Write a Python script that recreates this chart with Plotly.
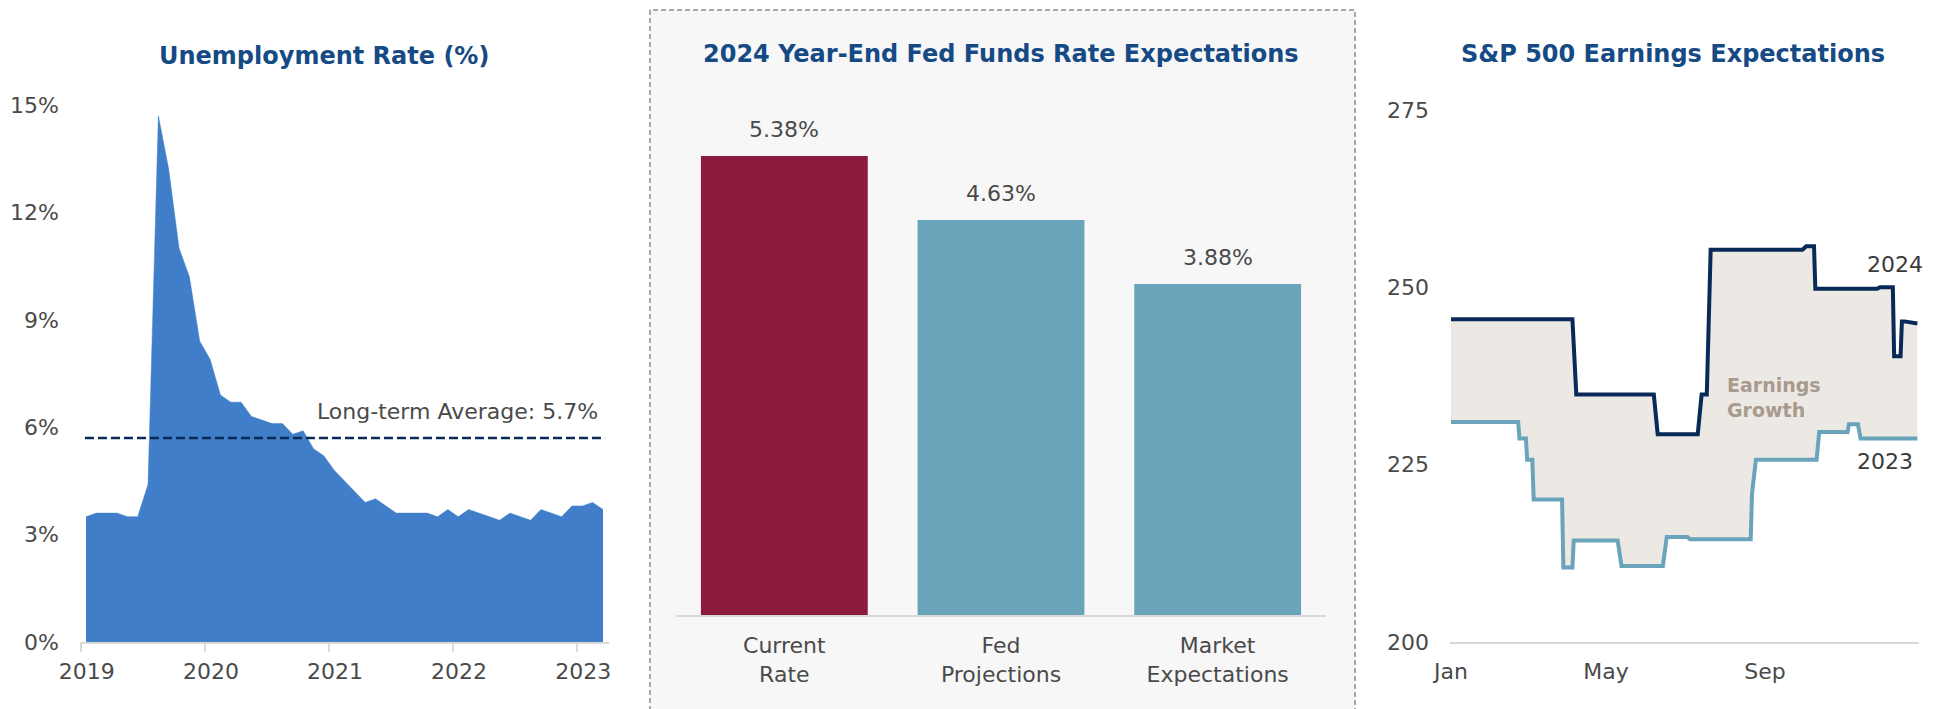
"""
Three-panel macro dashboard: unemployment, fed funds expectations, S&P 500 EPS
"""

import plotly.graph_objects as go

# ---------- data ----------
# monthly unemployment rate (%), index 0 = first month shown
UNEMP_RATE = [3.5, 3.6, 3.6, 3.6, 3.5, 3.5, 4.4, 14.7, 13.2, 11.0,
              10.2, 8.4, 7.9, 6.9, 6.7, 6.7, 6.3, 6.2, 6.1, 6.1,
              5.8, 5.9, 5.4, 5.2, 4.8, 4.5, 4.2, 3.9, 4.0, 3.8,
              3.6, 3.6, 3.6, 3.6, 3.5, 3.7, 3.5, 3.7, 3.6, 3.5,
              3.4, 3.6, 3.5, 3.4, 3.7, 3.6, 3.5, 3.8, 3.8, 3.9, 3.7]
UNEMP_MONTHS = list(range(len(UNEMP_RATE)))
LT_AVG = 5.7
YEAR_TICKS = [-0.5, 11.5, 23.5, 35.5, 47.5]
YEAR_LABELS = ['2019', '2020', '2021', '2022', '2023']
PCT_TICKS = [0, 3, 6, 9, 12, 15]

FED_CATS = ['Current<br>Rate', 'Fed<br>Projections', 'Market<br>Expectations']
FED_VALUES = [5.38, 4.63, 3.88]

EPS_TICKS = [200, 225, 250, 275]
EPS_2024_DATES = ['2023-01-01', '2023-04-05', '2023-04-08', '2023-06-07', '2023-06-10',
                  '2023-07-11', '2023-07-14', '2023-07-18', '2023-07-21', '2023-09-30',
                  '2023-10-03', '2023-10-09', '2023-10-10', '2023-11-27', '2023-11-29',
                  '2023-12-09', '2023-12-10', '2023-12-15', '2023-12-16', '2023-12-18',
                  '2023-12-28']
EPS_2024 = [245.5, 245.5, 234.9, 234.9, 229.3, 229.3, 234.9, 234.9, 255.3, 255.3,
            255.8, 255.8, 249.8, 249.8, 250.0, 250.0, 240.3, 240.3, 245.2, 245.2,
            244.9]

EPS_2023_DATES = ['2023-01-01', '2023-02-22', '2023-02-23', '2023-02-28', '2023-03-01',
                  '2023-03-05', '2023-03-06', '2023-03-28', '2023-03-29', '2023-04-05',
                  '2023-04-06', '2023-05-10', '2023-05-13', '2023-06-14', '2023-06-17',
                  '2023-07-03', '2023-07-05', '2023-08-21', '2023-08-22', '2023-08-25',
                  '2023-10-11', '2023-10-13', '2023-11-04', '2023-11-05', '2023-11-12',
                  '2023-11-14', '2023-12-28']
EPS_2023 = [231.0, 231.0, 228.7, 228.7, 225.7, 225.7, 220.1, 220.1, 210.5, 210.5,
            214.3, 214.3, 210.7, 210.7, 214.8, 214.8, 214.5, 214.5, 220.9, 225.7,
            225.7, 229.6, 229.6, 230.7, 230.7, 228.7, 228.7]

# ---------- style ----------
# the page body adds an 8px margin, so the figure is drawn 8px in and 8px smaller
OFFSET = 8
W, H = 1946 - OFFSET, 709 - OFFSET
FONT = 'DejaVu Sans'
NAVY_TITLE = '#154a84'
TEXT = '#4a4a4a'
AXIS = '#d9d9d9'
AREA_BLUE = '#407ec9'
MAROON = '#8b1c3e'
TEAL = '#6aa4bb'
NAVY = '#082a56'
BEIGE = '#ece9e5'
TAUPE = '#a89a8c'
TICK_SIZE = 22
TITLE_SIZE = 24


def px_x(p):
    return (p - OFFSET) / W


def px_y(p):
    return 1 - (p - OFFSET) / H


fig = go.Figure()

# ========== Unemployment area ==========
fig.add_trace(go.Scatter(
    x=UNEMP_MONTHS, y=UNEMP_RATE, mode='lines', fill='tozeroy',
    fillcolor=AREA_BLUE, line=dict(color=AREA_BLUE, width=0.5),
    xaxis='x', yaxis='y', hoverinfo='skip'
))
fig.add_trace(go.Scatter(
    x=[UNEMP_MONTHS[0] - 0.1, UNEMP_MONTHS[-1] + 0.2], y=[LT_AVG, LT_AVG],
    mode='lines', line=dict(color=NAVY, width=2.5, dash='9px,4px'),
    xaxis='x', yaxis='y', hoverinfo='skip'
))

# ========== Fed funds bars ==========
fig.add_trace(go.Bar(
    x=FED_CATS, y=FED_VALUES, marker=dict(color=[MAROON, TEAL, TEAL], line=dict(width=0)),
    xaxis='x2', yaxis='y2', hoverinfo='skip'
))

# ========== EPS expectations ==========
fig.add_trace(go.Scatter(
    x=EPS_2023_DATES, y=EPS_2023, mode='lines', line=dict(width=0, color=TEAL),
    xaxis='x3', yaxis='y3', hoverinfo='skip'
))
fig.add_trace(go.Scatter(
    x=EPS_2024_DATES, y=EPS_2024, mode='lines', line=dict(width=0, color=NAVY),
    fill='tonexty', fillcolor=BEIGE, xaxis='x3', yaxis='y3', hoverinfo='skip'
))
fig.add_trace(go.Scatter(
    x=EPS_2023_DATES, y=EPS_2023, mode='lines', line=dict(width=4, color=TEAL),
    xaxis='x3', yaxis='y3', hoverinfo='skip'
))
fig.add_trace(go.Scatter(
    x=EPS_2024_DATES, y=EPS_2024, mode='lines', line=dict(width=4, color=NAVY),
    xaxis='x3', yaxis='y3', hoverinfo='skip'
))

tickfont = dict(family=FONT, size=TICK_SIZE, color=TEXT)
annotations = []

# titles
for text, xc, yc in [('Unemployment Rate (%)', 324, 56),
                     ('2024 Year-End Fed Funds Rate Expectations', 1001, 54),
                     ('S&P 500 Earnings Expectations', 1673, 54)]:
    annotations.append(dict(
        text=f'<b>{text}</b>', xref='paper', yref='paper', x=px_x(xc), y=px_y(yc),
        xanchor='center', yanchor='middle', showarrow=False,
        font=dict(family=FONT, size=TITLE_SIZE, color=NAVY_TITLE)
    ))

annotations.append(dict(
    text=f'Long-term Average: {LT_AVG}%', xref='x', yref='y',
    x=UNEMP_MONTHS[-1] - 0.3, y=LT_AVG, xanchor='right', yanchor='bottom', yshift=12,
    showarrow=False, font=dict(family=FONT, size=TICK_SIZE, color=TEXT)
))

for cat, val in zip(FED_CATS, FED_VALUES):
    annotations.append(dict(
        text=f'{val:.2f}%', xref='x2', yref='y2', x=cat, y=val,
        xanchor='center', yanchor='bottom', yshift=12, showarrow=False,
        font=dict(family=FONT, size=TICK_SIZE, color=TEXT)
    ))

annotations += [
    dict(text='2024', xref='x3', yref='y3', x='2023-12-11', y=253.2,
         xanchor='center', yanchor='middle', showarrow=False,
         font=dict(family=FONT, size=TICK_SIZE, color='#3a3a3a')),
    dict(text='2023', xref='x3', yref='y3', x='2023-12-03', y=225.5,
         xanchor='center', yanchor='middle', showarrow=False,
         font=dict(family=FONT, size=TICK_SIZE, color='#3a3a3a')),
    dict(text='<b>Earnings<br>Growth</b>', xref='x3', yref='y3', x='2023-08-01', y=234.4,
         xanchor='left', yanchor='middle', align='left', showarrow=False,
         font=dict(family=FONT, size=19, color=TAUPE)),
]

fig.update_layout(
    template='none',
    width=W, height=H, autosize=False,
    margin=dict(l=0, r=0, t=0, b=0, pad=0),
    paper_bgcolor='white', plot_bgcolor='rgba(0,0,0,0)',
    showlegend=False, bargap=0.23,
    font=dict(family=FONT, color=TEXT),
    annotations=annotations,
    shapes=[dict(
        type='rect', xref='paper', yref='paper', layer='below',
        x0=px_x(650), x1=px_x(1355), y0=-0.05, y1=px_y(10),
        fillcolor='#f7f7f7', line=dict(color='#8c8c8c', width=1.5, dash='5px,3px')
    )],
    xaxis=dict(
        domain=[px_x(80), px_x(609)], range=[-0.58, 50.58], automargin=False,
        tickmode='array', tickvals=YEAR_TICKS, ticktext=YEAR_LABELS,
        ticks='outside', ticklen=8, tickwidth=1.5, tickcolor=AXIS,
        ticklabelshift=6, ticklabelstandoff=1,
        showline=True, linecolor=AXIS, linewidth=1.5,
        showgrid=False, zeroline=False, tickfont=tickfont
    ),
    yaxis=dict(
        domain=[px_y(642), px_y(105)], range=[0, 15], automargin=False,
        tickmode='array', tickvals=PCT_TICKS, ticktext=[f'{v}%' for v in PCT_TICKS],
        ticks='', ticklabelstandoff=20,
        showgrid=False, zeroline=False, showline=False, tickfont=tickfont
    ),
    xaxis2=dict(
        domain=[px_x(676), px_x(1326)], anchor='y2', range=[-0.5, 2.5], automargin=False,
        showline=True, linecolor=AXIS, linewidth=1.5, ticks='',
        ticklabelstandoff=10, showgrid=False, zeroline=False, tickfont=tickfont
    ),
    yaxis2=dict(
        domain=[px_y(615), px_y(103)], anchor='x2', range=[0, 6],
        visible=False, automargin=False
    ),
    xaxis3=dict(
        domain=[px_x(1450), px_x(1919)], anchor='y3', type='date', automargin=False,
        range=['2022-12-31 06:00', '2023-12-29 06:00'],
        tick0='2023-01-01', dtick='M4', tickformat='%b', ticks='',
        ticklabelstandoff=9, showline=True, linecolor=AXIS, linewidth=1.5,
        showgrid=False, zeroline=False, tickfont=tickfont
    ),
    yaxis3=dict(
        domain=[px_y(642), px_y(110)], anchor='x3', range=[200, 275], automargin=False,
        tickmode='array', tickvals=EPS_TICKS, ticks='', ticklabelstandoff=20,
        showgrid=False, zeroline=False, showline=False, tickfont=tickfont
    ),
)

fig.write_html("out.html")
